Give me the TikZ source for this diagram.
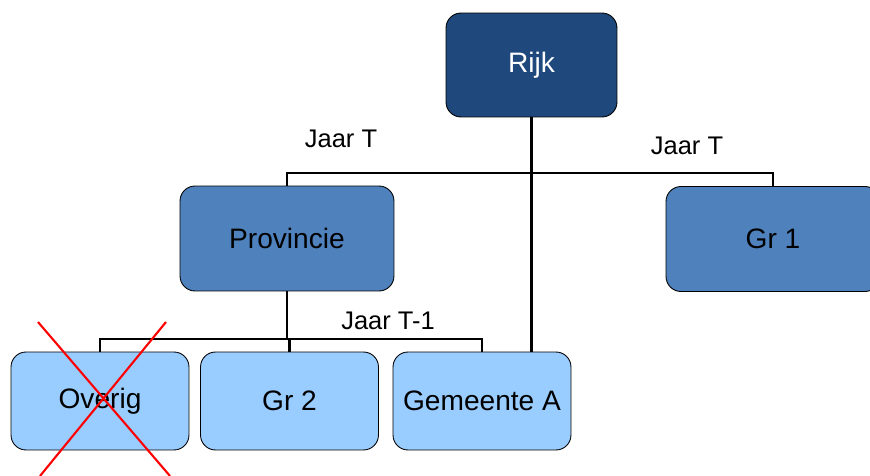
\documentclass[tikz,border=0pt]{standalone}
\usepackage{fontspec}
\setmainfont{Liberation Sans}
\definecolor{rijkblue}{HTML}{1F497D}
\definecolor{midblue}{HTML}{4F81BD}
\definecolor{lightblue}{HTML}{99CCFF}
\tikzset{
  box/.style={draw=black, line width=0.5pt, rounded corners=0.3cm, font=\fontsize{16}{18}\selectfont},
  topbox/.style={box, fill=rijkblue, text=white, minimum width=3.42cm, minimum height=2.08cm},
  midbox/.style={box, fill=midblue, minimum width=4.28cm, minimum height=2.1cm},
  lowbox/.style={box, fill=lightblue, minimum width=3.56cm, minimum height=1.96cm},
  link/.style={line width=1.7pt},
  jaar/.style={font=\fontsize{14.5}{16}\selectfont}
}

\begin{document}
\begin{tikzpicture}[x=0.02cm, y=-0.02cm]
    \useasboundingbox (0,0) rectangle (870,476);
    % boxes
    \node[topbox] (rijk) at (531.5,65) {Rijk};
    \node[midbox] (prov) at (287,238.5) {Provincie};
    \node[midbox] (gr1) at (773,239) {Gr 1};
    \node[lowbox] (overig) at (100,401) {Overig};
    \node[lowbox] (gr2) at (289.5,401) {Gr 2};
    \node[lowbox] (gem) at (482,401) {Gemeente A};
    % connectors
    \coordinate (splittop) at (0,173);
    \coordinate (splitlow) at (0,339);
    \draw[link] (rijk.south) -- (rijk.south |- gem.north);
    \draw[link] (prov.north) -- (prov.north |- splittop) -- (gr1.north |- splittop) -- (gr1.north);
    \draw[link] (prov.south) -- (prov.south |- splitlow);
    \draw[link] (overig.north) -- (overig.north |- splitlow) -- (gem.north |- splitlow) -- (gem.north);
    \foreach \n in {overig,gr2,gem}
        \draw[link] (\n.north) -- (\n.north |- splitlow);
    % labels
    \node[jaar] (jaarprov) at (341,139) {Jaar T};
    \node[jaar] (jaargr) at (687,146) {Jaar T};
    \node[jaar] (jaarlow) at (388,321) {Jaar T-1};
    % cross
    \draw[red, line width=1.2pt] (38,322) -- (170,476) (166,322) -- (40,476);
\end{tikzpicture}
\end{document}
